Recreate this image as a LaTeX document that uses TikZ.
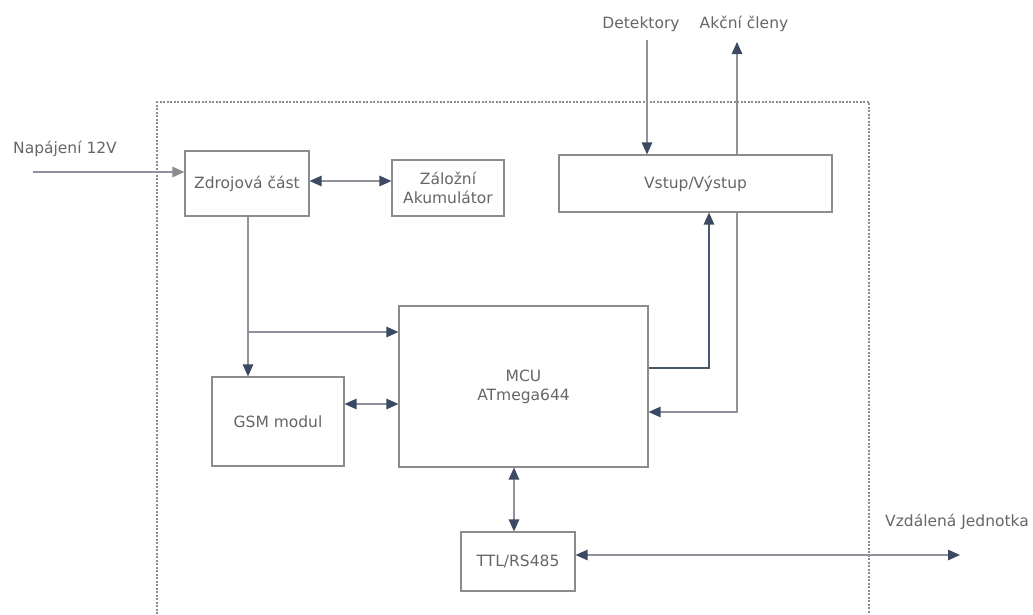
\documentclass[tikz,border=0pt]{standalone}
\usepackage{fontspec}
\setmainfont{DejaVu Sans}
\usetikzlibrary{arrows.meta}
\definecolor{boxc}{HTML}{8C8C8C}
\definecolor{txtc}{HTML}{666666}
\definecolor{headc}{HTML}{3B4963}
\definecolor{linec}{HTML}{8E939B}
\definecolor{darkline}{HTML}{4A5670}
\tikzset{
  blk/.style={draw=boxc, line width=1.2pt, rectangle, inner sep=0pt, text=txtc, font=\fontsize{15.5}{19}\selectfont, align=center},
  lbl/.style={text=txtc, font=\fontsize{15.5}{19}\selectfont, inner sep=0pt},
  conn/.style={draw=linec, line width=1.3pt},
  tip/.style={-{Triangle[length=12pt,width=10.5pt,fill=headc,color=headc]}},
  tipb/.style={{Triangle[length=12pt,width=10.5pt,fill=headc,color=headc]}-{Triangle[length=12pt,width=10.5pt,fill=headc,color=headc]}},
  tipg/.style={-{Triangle[length=12pt,width=10.5pt,fill=boxc,color=boxc]}},
  frame/.style={draw=boxc, line width=1.1pt, dash pattern=on 2pt off 1.5pt}
}
\begin{document}
\begin{tikzpicture}[x=1pt,y=-1pt]
\useasboundingbox (0,0) rectangle (1033,614);
\fill[white] (0,0) rectangle (1033,614);
% frame
\draw[frame] (157,614) -- (157,102) -- (869,102) -- (869,614);
% blocks
\node[blk, minimum width=124pt, minimum height=65pt] (zdroj) at (247,183.5) {Zdrojová část};
\node[blk, minimum width=112pt, minimum height=56pt] (zaloz) at (448,188) {Záložní\\Akumulátor};
\node[blk, minimum width=273pt, minimum height=57pt] (vstup) at (695.5,183.5) {Vstup/Výstup};
\node[blk, minimum width=249pt, minimum height=161pt] (mcu) at (523.5,386.5) {MCU\\ATmega644};
\node[blk, minimum width=132pt, minimum height=89pt] (gsm) at (278,421.5) {GSM modul};
\node[blk, minimum width=114pt, minimum height=59pt] (ttl) at (518,561.5) {TTL/RS485};
% labels
\node[lbl, anchor=west] (nap) at (13,149) {Napájení 12V};
\node[lbl] (det) at (641,24) {Detektory};
\node[lbl] (akc) at (744,24) {Akční členy};
\node[lbl, anchor=west] (vzd) at (885,522) {Vzdálená Jednotka};
% coordinates
\coordinate (napS) at (33,172);
\coordinate (br) at (248,332);
\coordinate (vzdE) at (960,555);
\coordinate (detS) at (647,40);
\coordinate (akcS) at (737,42);
% connectors
\draw[conn, tipg] (napS) -- (zdroj.west |- napS);
\draw[conn, tipb] (zdroj.east |- 0,181) -- (zaloz.west |- 0,181);
\draw[conn, tip] (zdroj.south -| br) -- (gsm.north -| br);
\draw[conn, tip] (br) -- (mcu.west |- br);
\draw[conn, tipb] (gsm.east |- 0,404) -- (mcu.west |- 0,404);
\draw[conn, draw=darkline, tip] (mcu.east |- 0,368) -| (vstup.south -| 709,0);
\draw[conn, tip] (vstup.south -| 737,0) |- (mcu.east |- 0,412);
\draw[conn, tipb] (mcu.south -| 514,0) -- (ttl.north -| 514,0);
\draw[conn, tipb] (ttl.east |- vzdE) -- (vzdE);
\draw[conn, tip] (detS) -- (vstup.north -| detS);
\draw[conn, tip] (vstup.north -| akcS) -- (akcS);
\end{tikzpicture}
\end{document}
